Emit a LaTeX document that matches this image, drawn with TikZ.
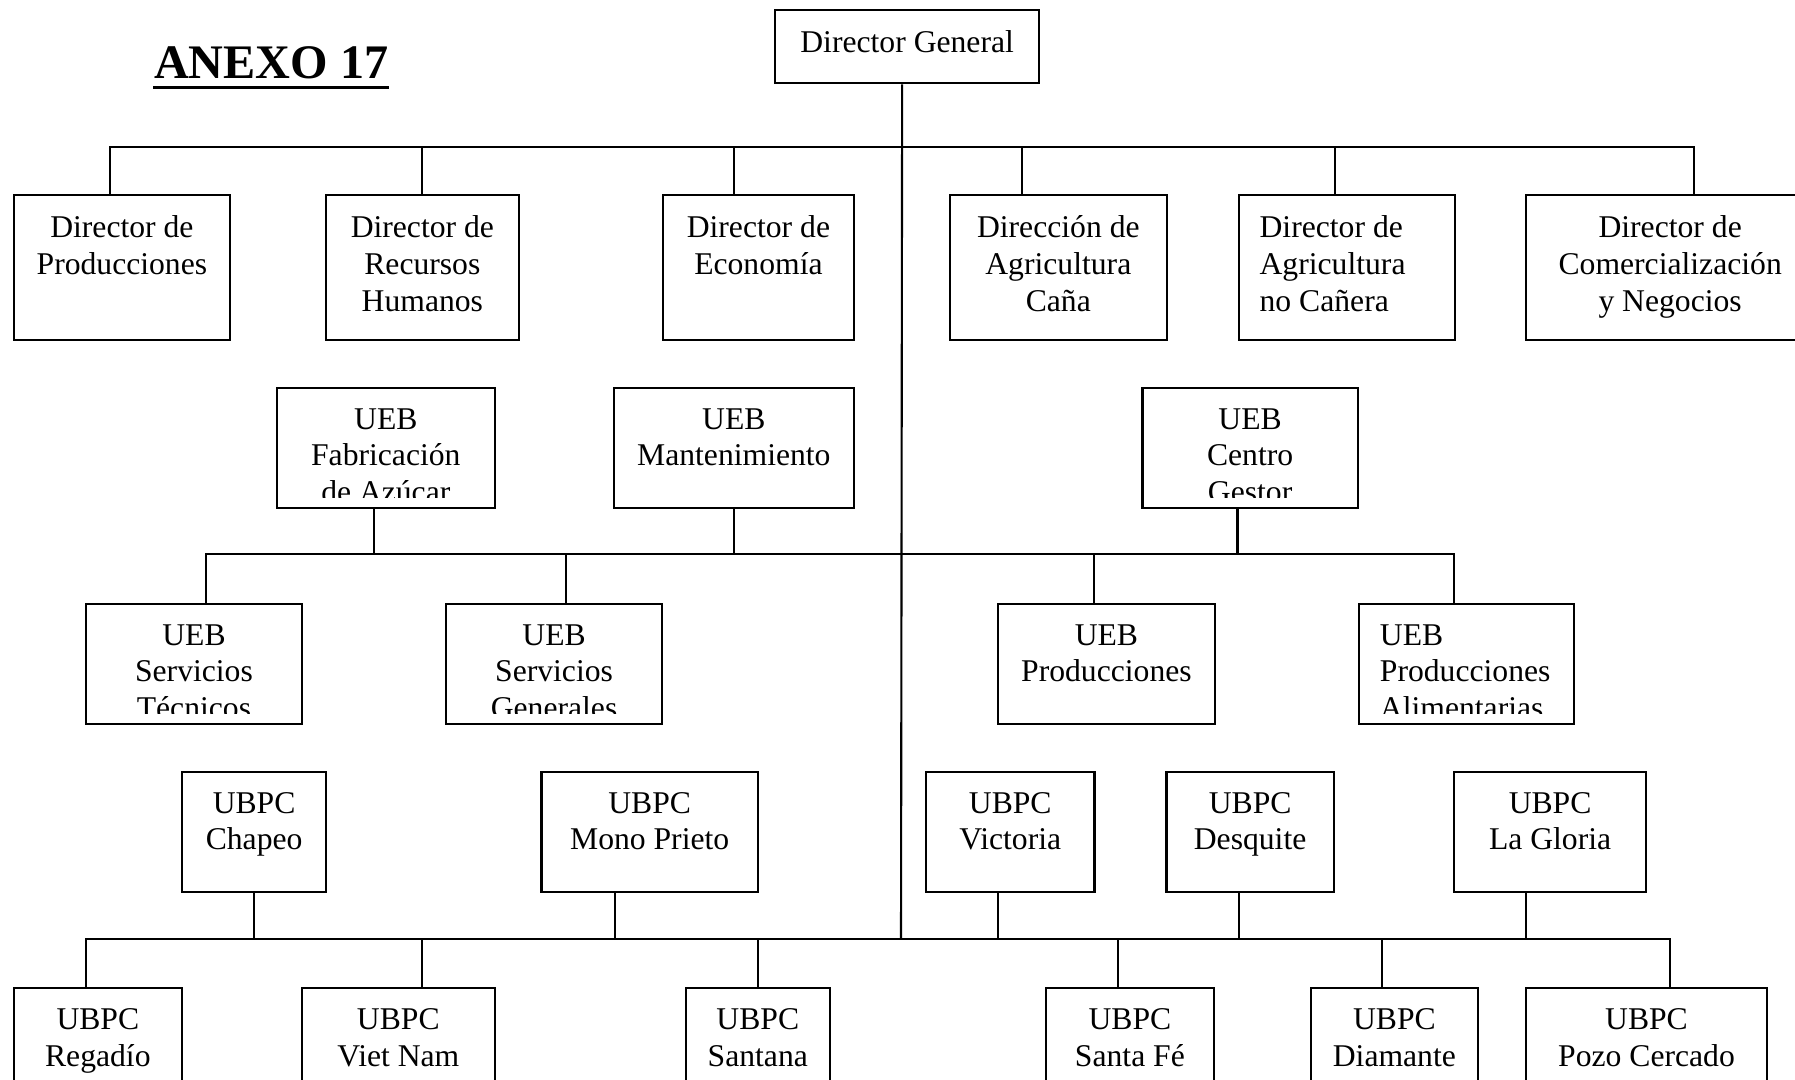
\documentclass[tikz,border=0pt]{standalone}
\usepackage{fontspec}
\setmainfont{Liberation Serif}

\begin{document}
\begin{tikzpicture}[
    x=0.01cm, y=-0.01cm,
    line width=0.6pt,
    txt/.style={draw=none, minimum width=0pt, minimum height=0pt, inner sep=0pt, path picture={}, font=\fontsize{9}{10.4}\selectfont},
    unit/.style={rectangle, draw, anchor=north west, inner sep=0pt,
        path picture={
            \clip ([yshift=0.1cm]path picture bounding box.south west) rectangle (path picture bounding box.north east);
            \node[txt, anchor=north, align=center] (txt) at ([yshift=-0.195cm]path picture bounding box.north) {#1};
        }},
    unitl/.style={rectangle, draw, anchor=north west, inner sep=0pt,
        path picture={
            \clip ([yshift=0.1cm]path picture bounding box.south west) rectangle (path picture bounding box.north east);
            \node[txt, anchor=north west, align=left] (txt) at ([xshift=0.2cm, yshift=-0.195cm]path picture bounding box.north west) {#1};
        }},
    title/.style={font=\fontsize{13.7}{16}\selectfont\bfseries, anchor=base west, inner sep=0pt}
]
\useasboundingbox (0,0) rectangle (1795,1080);
\clip (0,0) rectangle (1795,1080);

% Title and top box
\node[title] (anexo) at (153,79) {ANEXO 17};
\draw[line width=0.9pt] ([yshift=-2.4pt]anexo.base west) -- ([yshift=-2.4pt]anexo.base east);

\node[unit={Director General}, minimum width=2.64cm, minimum height=0.73cm] (dg) at (774,9.3) {};

% Junctions on the main line
\coordinate (top1) at (901,146.7);
\coordinate (hub2) at (901,554.3);
\coordinate (hub4) at (901,939);

\draw ([xshift=-0.05cm]dg.south) -- (hub4);

% Directors
\node[unit={Director de\\Producciones}, minimum width=2.164cm, minimum height=1.45cm] (d_prod) at (12.6,194.3) {};
\node[unit={Director de\\Recursos\\Humanos}, minimum width=1.925cm, minimum height=1.45cm] (d_rrhh) at (325,194.3) {};
\node[unit={Director de\\Economía}, minimum width=1.912cm, minimum height=1.45cm] (d_eco) at (661.7,194.3) {};
\node[unit={Dirección de\\Agricultura\\Caña}, minimum width=2.164cm, minimum height=1.45cm] (d_cana) at (949,194.3) {};
\node[unitl={Director de\\Agricultura\\no Cañera}, minimum width=2.165cm, minimum height=1.45cm] (d_nocana) at (1237.5,194.3) {};
\node[unit={Director de\\Comercialización\\y Negocios}, minimum width=2.88cm, minimum height=1.45cm] (d_com) at (1525,194.3) {};

\draw ([xshift=-0.12cm]d_prod.north) |- (top1);
\draw (d_rrhh.north) |- (top1);
\draw ([xshift=-0.246cm]d_eco.north) |- (top1);
\draw ([xshift=-0.36cm]d_cana.north) |- (top1);
\draw ([xshift=-0.12cm]d_nocana.north) |- (top1);
\draw ([xshift=0.242cm]d_com.north) |- (top1);

% UEB
\node[unit={UEB\\Fabricación\\de Azúcar}, minimum width=2.174cm, minimum height=1.2cm] (fab) at (276,386.7) {};
\node[unit={UEB\\Mantenimiento}, minimum width=2.404cm, minimum height=1.2cm] (mant) at (612.5,386.7) {};
\node[unit={UEB\\Centro\\Gestor}, minimum width=2.152cm, minimum height=1.2cm] (gestor) at (1141.4,386.7) {};

\node[unit={UEB\\Servicios\\Técnicos}, minimum width=2.163cm, minimum height=1.2cm] (serv_tec) at (84.7,602.7) {};
\node[unit={UEB\\Servicios\\Generales}, minimum width=2.153cm, minimum height=1.2cm] (serv_gen) at (445.3,602.7) {};
\node[unit={UEB\\Producciones}, minimum width=2.164cm, minimum height=1.2cm] (u_prod) at (997.1,602.7) {};
\node[unitl={UEB\\Producciones\\Alimentarias}, minimum width=2.152cm, minimum height=1.2cm] (alim) at (1357.8,602.7) {};

\draw ([xshift=-0.115cm]fab.south) |- (hub2);
\draw (mant.south) |- (hub2);
\draw ([xshift=-0.126cm]gestor.south) |- (hub2);
\draw ([xshift=0.12cm]serv_tec.north) |- (hub2);
\draw ([xshift=0.115cm]serv_gen.north) |- (hub2);
\draw ([xshift=-0.12cm]u_prod.north) |- (hub2);
\draw ([xshift=-0.126cm]alim.north) |- (hub2);

% UBPC
\node[unit={UBPC\\Chapeo}, minimum width=1.442cm, minimum height=1.203cm] (chapeo) at (180.9,770.7) {};
\node[unit={UBPC\\Mono Prieto}, minimum width=2.163cm, minimum height=1.203cm] (mono) at (540.4,770.7) {};
\node[unit={UBPC\\Victoria}, minimum width=1.683cm, minimum height=1.203cm] (victoria) at (925,770.7) {};
\node[unit={UBPC\\Desquite}, minimum width=1.672cm, minimum height=1.203cm] (desquite) at (1165.4,770.7) {};
\node[unit={UBPC\\La Gloria}, minimum width=1.923cm, minimum height=1.203cm] (gloria) at (1452.8,770.7) {};

\node[unit={UBPC\\Regadío}, minimum width=1.683cm, minimum height=1.2cm] (regadio) at (12.6,987) {};
\node[unit={UBPC\\Viet Nam}, minimum width=1.924cm, minimum height=1.2cm] (vietnam) at (301,987) {};
\node[unit={UBPC\\Santana}, minimum width=1.442cm, minimum height=1.2cm] (santana) at (684.6,987) {};
\node[unit={UBPC\\Santa Fé}, minimum width=1.672cm, minimum height=1.2cm] (santafe) at (1045.2,987) {};
\node[unit={UBPC\\Diamante}, minimum width=1.671cm, minimum height=1.2cm] (diamante) at (1309.7,987) {};
\node[unit={UBPC\\Pozo Cercado}, minimum width=2.407cm, minimum height=1.2cm] (pozo) at (1525,987) {};

\draw (chapeo.south) |- (hub4);
\draw ([xshift=-0.35cm]mono.south) |- (hub4);
\draw ([xshift=-0.12cm]victoria.south) |- (hub4);
\draw ([xshift=-0.115cm]desquite.south) |- (hub4);
\draw ([xshift=-0.24cm]gloria.south) |- (hub4);
\draw ([xshift=-0.12cm]regadio.north) |- (hub4);
\draw ([xshift=0.241cm]vietnam.north) |- (hub4);
\draw (santana.north) |- (hub4);
\draw ([xshift=-0.115cm]santafe.north) |- (hub4);
\draw ([xshift=-0.126cm]diamante.north) |- (hub4);
\draw ([xshift=0.238cm]pozo.north) |- (hub4);

\end{tikzpicture}
\end{document}
